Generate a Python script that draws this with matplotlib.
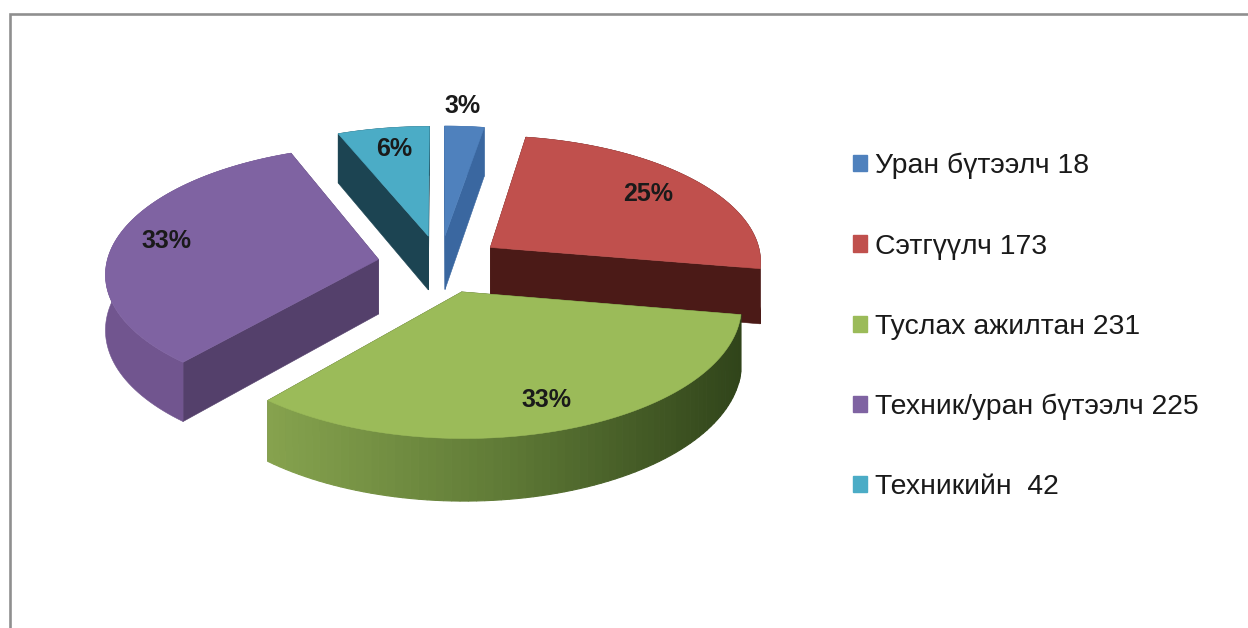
import numpy as np
import matplotlib
matplotlib.use("Agg")
import matplotlib.pyplot as plt
from matplotlib.patches import Polygon, Patch
from matplotlib.lines import Line2D

labels = ["Уран бүтээлч 18", "Сэтгүүлч 173", "Туслах ажилтан 231", "Техник/уран бүтээлч 225", "Техникийн  42"]
values = [18, 173, 231, 225, 42]
pct_labels = ["3%", "25%", "33%", "33%", "6%"]
pct_pos = [(463, 106), (648, 194), (546, 400), (166, 241), (394, 149)]
top_colors = ["#4f81bd", "#c0504d", "#9bbb59", "#7f63a2", "#4bacc6"]
face_colors = ["#3a67a0", "#4b1a17", "#3c4a20", "#54406b", "#1c4452"]
wall_colors = ["#3a67a0", "#4b1a17", None, "#71558f", "#1c4452"]
green_grad = ["#86a34e", "#5f7a36", "#30441a"]

CX, CY, A, B, K, D, EXPL = 440, 264, 272, 126, 0.10, 55, 0.23

fig = plt.figure(figsize=(12.48, 6.28), dpi=100, facecolor="white")
ax = fig.add_axes([0, 0, 1, 1])
ax.set_xlim(0, 1248)
ax.set_ylim(628, 0)
ax.axis("off")

ax.add_line(Line2D([10, 10, 1248], [628, 14, 14], color="#8f8f8f", lw=1.9, solid_joinstyle="miter"))


def proj(X, Y, z=0.0):
    w = 1.0 / (1.0 + K * Y)
    return np.column_stack([CX + A * X * w, CY - B * Y * w + D * z * w])


total = sum(values)
ang = np.concatenate([[0], np.cumsum(values)]) / total * 2 * np.pi


def rim(i, n=80):
    t = np.linspace(ang[i], ang[i + 1], n)
    m = (ang[i] + ang[i + 1]) / 2
    ox, oy = EXPL * np.sin(m), EXPL * np.cos(m)
    return t, ox + np.sin(t), oy + np.cos(t), ox, oy


def draw_slice(i):
    t, X, Y, ox, oy = rim(i)
    for idx in (0, -1):
        q = np.vstack([proj(np.array([ox, X[idx]]), np.array([oy, Y[idx]]), 0),
                       proj(np.array([X[idx], ox]), np.array([Y[idx], oy]), 1)])
        ax.add_patch(Polygon(q, closed=True, fc=face_colors[i], ec=face_colors[i], lw=0.4, zorder=2 + i))
    if wall_colors[i] is not None:
        q = np.vstack([proj(X, Y, 0), proj(X[::-1], Y[::-1], 1)])
        ax.add_patch(Polygon(q, closed=True, fc=wall_colors[i], ec=wall_colors[i], lw=0.4, zorder=2 + i))
    else:
        stops = np.array([matplotlib.colors.to_rgb(c) for c in green_grad])
        xs = proj(X, Y)[:, 0]
        f = (xs.max() - xs) / (xs.max() - xs.min())
        for j in range(len(X) - 1):
            g = 1 - (f[j] + f[j + 1]) / 2
            col = [np.interp(g, [0, .5, 1], stops[:, c]) for c in range(3)]
            q = np.vstack([proj(X[j:j + 2], Y[j:j + 2], 0), proj(X[j:j + 2][::-1], Y[j:j + 2][::-1], 1)])
            ax.add_patch(Polygon(q, closed=True, fc=col, ec=col, lw=0.8, zorder=2 + i))
    q = np.vstack([proj(np.array([ox]), np.array([oy])), proj(X, Y)])
    ax.add_patch(Polygon(q, closed=True, fc=top_colors[i], ec=top_colors[i], lw=0.4, zorder=2 + i))


for i in [0, 4, 1, 3, 2]:
    draw_slice(i)

for s, (x, y) in zip(pct_labels, pct_pos):
    ax.text(x, y, s, ha="center", va="center", fontsize=18, fontweight="bold",
            family="Liberation Sans", color="#1a1a1a", zorder=20)

handles = [Patch(fc=c, ec=c) for c in top_colors]
leg = ax.legend(handles, labels, loc="upper left", bbox_to_anchor=(853, 153), bbox_transform=ax.transData,
                frameon=False, prop={"family": "Liberation Sans", "size": 20.4},
                handlelength=0.5, handleheight=0.5, handletextpad=0.28, labelspacing=1.91,
                borderpad=0, borderaxespad=0)
for t in leg.get_texts():
    t.set_color("#1a1a1a")

fig.savefig("out.png", dpi=100, facecolor="white")
